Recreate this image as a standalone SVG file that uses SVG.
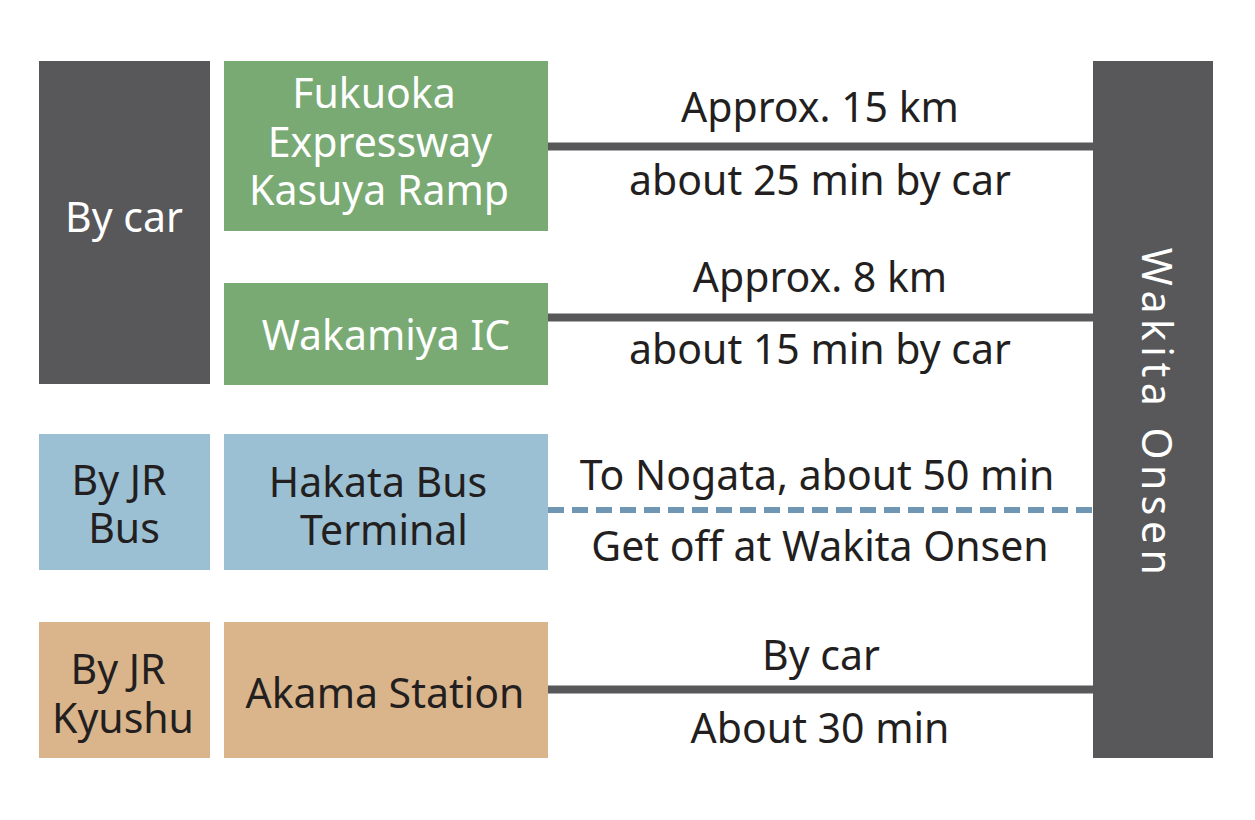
<svg xmlns="http://www.w3.org/2000/svg" width="1255" height="820" viewBox="0 0 1255 820">
<style>
text{font-family:"Noto Sans","Open Sans","Liberation Sans",sans-serif;font-size:41px;text-anchor:middle}
.w{fill:#ffffff}
.d{fill:#231f20}
.dark{fill:#58585a}
.green{fill:#79aa74}
.blue{fill:#9bc0d3}
.tan{fill:#dab58b}
.ln{stroke:#58585a;stroke-width:8;fill:none}
.dash{stroke:#6f97b3;stroke-width:6;fill:none;stroke-dasharray:16 8}
</style>
<rect width="1255" height="820" fill="#ffffff"/>
<g id="connectors">
<line class="ln" x1="548" y1="146.5" x2="1093" y2="146.5"/>
<line class="ln" x1="548" y1="317.5" x2="1093" y2="317.5"/>
<line class="dash" x1="548" y1="510" x2="1093" y2="510"/>
<line class="ln" x1="548" y1="689.5" x2="1093" y2="689.5"/>
<text class="d" x="820" y="122">Approx. 15 km</text>
<text class="d" x="820" y="195">about 25 min by car</text>
<text class="d" x="820" y="292">Approx. 8 km</text>
<text class="d" x="820" y="364">about 15 min by car</text>
<text class="d" x="817" y="490">To Nogata, about 50 min</text>
<text class="d" x="820" y="561">Get off at Wakita Onsen</text>
<text class="d" x="821" y="670">By car</text>
<text class="d" x="820" y="743">About 30 min</text>
</g>
<g id="by-car">
<rect class="dark" x="39" y="61" width="171" height="323"/>
<text class="w" x="124" y="232">By car</text>
</g>
<g id="fukuoka">
<rect class="green" x="224" y="61" width="324" height="170"/>
<text class="w" x="374" y="108">Fukuoka</text>
<text class="w" x="380" y="157">Expressway</text>
<text class="w" x="379" y="205">Kasuya Ramp</text>
</g>
<g id="wakamiya">
<rect class="green" x="224" y="283" width="324" height="102"/>
<text class="w" x="386" y="350">Wakamiya IC</text>
</g>
<g id="by-jr-bus">
<rect class="blue" x="39" y="434" width="171" height="136"/>
<text class="d" x="119" y="495">By JR</text>
<text class="d" x="124" y="543">Bus</text>
</g>
<g id="hakata">
<rect class="blue" x="224" y="434" width="324" height="136"/>
<text class="d" x="378" y="497">Hakata Bus</text>
<text class="d" x="384" y="545">Terminal</text>
</g>
<g id="by-jr-kyushu">
<rect class="tan" x="39" y="622" width="171" height="136"/>
<text class="d" x="118" y="684">By JR</text>
<text class="d" x="123" y="733">Kyushu</text>
</g>
<g id="akama">
<rect class="tan" x="224" y="622" width="324" height="136"/>
<text class="d" x="385" y="708">Akama Station</text>
</g>
<g id="wakita-onsen">
<rect class="dark" x="1093" y="61" width="120" height="697"/>
<text class="w" transform="translate(1142 411) rotate(90)" x="3" y="0" style="letter-spacing:5.5px">Wakita Onsen</text>
</g>
</svg>
